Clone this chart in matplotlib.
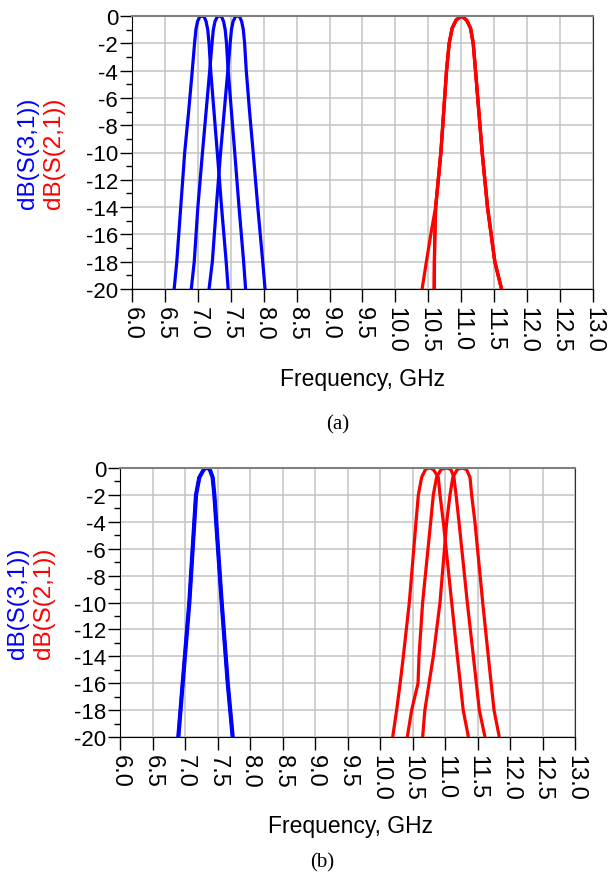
import matplotlib
matplotlib.use("Agg")
import matplotlib.pyplot as plt

plt.rcParams['font.family'] = ['Liberation Sans', 'DejaVu Sans']
plt.rcParams['axes.unicode_minus'] = False

# x ticks / y ticks
freq_ticks = [6.0, 6.5, 7.0, 7.5, 8.0, 8.5, 9.0, 9.5, 10.0, 10.5, 11.0, 11.5, 12.0, 12.5, 13.0]
db_ticks = [0, -2, -4, -6, -8, -10, -12, -14, -16, -18, -20]

# ---- panel (a) ----
a_blue_db = [-20, -18, -14, -10, -7, -4, -2, -1, -0.4, -0.05, 0, -0.05, -0.4, -1, -2, -4, -7, -10, -14, -18, -20]
a_s31_1 = [6.64, 6.68, 6.74, 6.80, 6.86, 6.915, 6.95, 6.97, 6.995, 7.03, 7.06, 7.095, 7.125, 7.15, 7.17, 7.195, 7.245, 7.295, 7.36, 7.43, 7.46]
a_s31_2 = [6.90, 6.945, 7.00, 7.07, 7.125, 7.18, 7.215, 7.235, 7.26, 7.295, 7.325, 7.36, 7.39, 7.415, 7.435, 7.46, 7.51, 7.56, 7.625, 7.695, 7.725]
a_s31_3 = [7.17, 7.22, 7.28, 7.345, 7.40, 7.455, 7.49, 7.51, 7.535, 7.57, 7.60, 7.635, 7.665, 7.69, 7.71, 7.735, 7.785, 7.84, 7.91, 7.985, 8.02]

a_red_db = [-20, -18, -16, -14, -10, -4, -2, -0.9, -0.3, 0, -0.3, -0.9, -2, -4, -10, -14, -18, -20]
a_s21_1 = [10.405, 10.47, 10.537, 10.61, 10.689, 10.775, 10.815, 10.86, 10.92, 11.0, 11.08, 11.14, 11.18, 11.215, 11.316, 11.397, 11.508, 11.61]
a_s21_2 = [10.587, 10.59, 10.598, 10.61, 10.689, 10.775, 10.815, 10.86, 10.92, 11.0, 11.08, 11.14, 11.18, 11.215, 11.316, 11.397, 11.508, 11.61]
a_s21_3 = [10.59, 10.593, 10.60, 10.613, 10.692, 10.778, 10.818, 10.863, 10.923, 11.003, 11.083, 11.143, 11.183, 11.218, 11.319, 11.40, 11.511, 11.613]

# ---- panel (b) ----
b_blue_db = [-20, -16, -10, -2, -0.7, -0.1, 0, -0.1, -0.7, -2, -10, -16, -20]
b_s31_1 = [6.897, 6.964, 7.066, 7.169, 7.22, 7.29, 7.333, 7.38, 7.425, 7.451, 7.564, 7.657, 7.733]
b_s31_2 = [6.905, 6.972, 7.074, 7.177, 7.228, 7.298, 7.341, 7.388, 7.433, 7.459, 7.572, 7.665, 7.741]
b_s31_3 = [6.89, 6.957, 7.059, 7.162, 7.213, 7.283, 7.326, 7.373, 7.418, 7.444, 7.557, 7.65, 7.726]

b_red_db = [-20, -18, -16, -14, -10, -4, -2, -0.7, -0.1, 0, -0.1, -0.7, -2, -4, -10, -14, -18, -20]
b_s21_1 = [10.195, 10.256, 10.31, 10.359, 10.451, 10.554, 10.59, 10.64, 10.70, 10.76, 10.82, 10.897, 10.923, 10.974, 11.103, 11.19, 11.28, 11.36]
b_s21_2 = [10.42, 10.487, 10.585, 10.60, 10.656, 10.78, 10.82, 10.87, 10.94, 11.02, 11.09, 11.138, 11.17, 11.215, 11.343, 11.436, 11.528, 11.615]
b_s21_3 = [10.656, 10.69, 10.755, 10.82, 10.923, 11.026, 11.077, 11.12, 11.19, 11.26, 11.33, 11.385, 11.41, 11.46, 11.58, 11.666, 11.754, 11.835]

W, H = 616, 878
fig = plt.figure(figsize=(W / 100, H / 100), dpi=100)


def make_axes(x0, y0, x1, y1):
    # pixel box -> figure fraction
    ax = fig.add_axes([x0 / W, 1 - y1 / H, (x1 - x0) / W, (y1 - y0) / H])
    ax.set_xlim(6.0, 13.0)
    ax.set_ylim(-20, 0)
    ax.set_xticks(freq_ticks)
    ax.set_xticklabels(["%.1f" % f for f in freq_ticks], rotation=-90, fontsize=17)
    ax.set_yticks(db_ticks)
    ax.set_yticklabels([str(d) for d in db_ticks], fontsize=16)
    ax.set_yticks(range(-19, 0, 2), minor=True)
    ax.tick_params(axis='y', which='major', length=9, width=1, pad=1)
    ax.tick_params(axis='y', which='minor', length=4.5, width=1)
    ax.tick_params(axis='x', which='major', length=9, width=1, pad=3)
    ax.grid(True, which='major', color='#c4c4c4', lw=1.1)
    ax.set_axisbelow(True)
    ax.spines['top'].set_color('#808080')
    ax.spines['top'].set_linewidth(1.5)
    ax.spines['right'].set_color('#303030')
    return ax


def ylab(ax_top, ax_bot, xb, xr):
    yc = 1 - (ax_top + ax_bot) / 2 / H
    fig.text(xb / W, yc, "dB(S(3,1))", color='#0000ff', rotation=90,
             ha='center', va='center', fontsize=17.5)
    fig.text(xr / W, yc, "dB(S(2,1))", color='#ff0000', rotation=90,
             ha='center', va='center', fontsize=17.5)


lw = 2.3

ax1 = make_axes(132, 17, 593, 290)
for f in [a_s31_1, a_s31_2, a_s31_3]:
    ax1.plot(f, a_blue_db, color='#0000ff', lw=lw, solid_joinstyle='round')
for f in [a_s21_1, a_s21_2, a_s21_3]:
    ax1.plot(f, a_red_db, color='#ff0000', lw=lw, solid_joinstyle='round')
ylab(17, 290, 28, 54)
fig.text(363 / W, 1 - 380 / H, "Frequency, GHz", ha='center', va='center', fontsize=16.5)
fig.text(338 / W, 1 - 425 / H, "(a)", ha='center', va='center', fontsize=15,
         family='Liberation Serif')

ax2 = make_axes(120, 469, 575, 738)
for f in [b_s31_1, b_s31_2, b_s31_3]:
    ax2.plot(f, b_blue_db, color='#0000ff', lw=lw, solid_joinstyle='round')
for f in [b_s21_1, b_s21_2, b_s21_3]:
    ax2.plot(f, b_red_db, color='#ff0000', lw=lw, solid_joinstyle='round')
ylab(469, 738, 18, 44)
fig.text(350 / W, 1 - 827 / H, "Frequency, GHz", ha='center', va='center', fontsize=16.5)
fig.text(322 / W, 1 - 863 / H, "(b)", ha='center', va='center', fontsize=15,
         family='Liberation Serif')

fig.savefig("out.png", dpi=100)
